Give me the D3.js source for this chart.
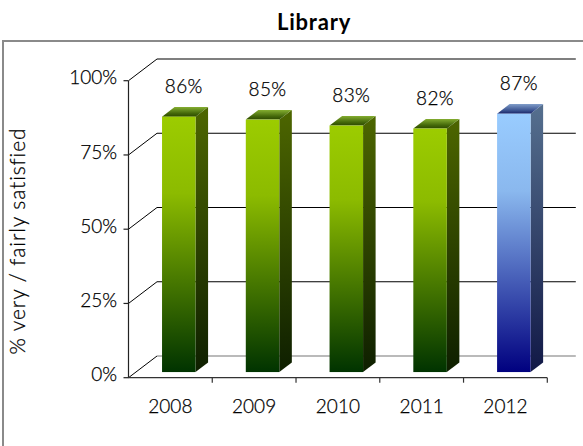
<!DOCTYPE html>
<html>
<head>
<meta charset="utf-8">
<script src="https://cdn.jsdelivr.net/npm/d3@7"></script>
<style>
  html, body { margin: 0; padding: 0; background: #fff; }
  svg { display: block; }
  text { font-family: Lato, "Liberation Sans", sans-serif; fill: #000; font-weight: 300; stroke: #000; stroke-width: 0.25px; }
</style>
</head>
<body>
<svg id="chart" width="583" height="446"></svg>
<script>
// Library satisfaction by survey year
const years = ["2008", "2009", "2010", "2011", "2012"];
const satisfied = [86, 85, 83, 82, 87];
const yTicks = [0, 25, 50, 75, 100];
const title = "Library";
const yTitle = "% very / fairly satisfied";

const svg = d3.select("#chart");

// 3-D box geometry: the back wall is offset from the front plane by (DX, DY)
const DX = 28.5, DY = -21.7;
const zFront = 0.26, zBack = 0.70;   // bar depth as a share of the box depth

const x = d3.scaleBand().domain(years).range([128.5, 547.3]).padding(0);
const y = d3.scaleLinear().domain([0, 100]).range([377.7, 80.7]);

// outer chart frame
svg.append("rect")
  .attr("x", 3).attr("y", 41).attr("width", 600).attr("height", 430)
  .attr("fill", "none").attr("stroke", "#8a8a8a").attr("stroke-width", 2);

// title
svg.append("text")
  .attr("x", 314).attr("y", 30)
  .attr("text-anchor", "middle")
  .style("font-weight", "bold").style("font-size", "22px")
  .style("letter-spacing", "0.8px").style("stroke", "none")
  .text(title);

// gradients
const defs = svg.append("defs");
function grad(id, stops, reverse = false) {
  const g = defs.append("linearGradient").attr("id", id)
    .attr("x1", 0).attr("x2", 0)
    .attr("y1", reverse ? 1 : 0).attr("y2", reverse ? 0 : 1);
  stops.forEach(([o, c]) => g.append("stop").attr("offset", o).attr("stop-color", c));
}
const palettes = {
  green: {
    front: [[0, "#9ccc00"], [0.3, "#8cbb00"], [1, "#003300"]],
    side:  [[0, "#4d6600"], [1, "#0e1f00"]],
    top:   [[0, "#2e4a00"], [0.35, "#44680a"], [1, "#84ad30"]]
  },
  blue: {
    front: [[0, "#99ccff"], [0.3, "#8ab8ee"], [1, "#00007f"]],
    side:  [[0, "#56708f"], [1, "#111846"]],
    top:   [[0, "#1a2468"], [0.35, "#3c5592"], [1, "#7f9cc8"]]
  }
};
Object.entries(palettes).forEach(([k, p]) => {
  grad(k + "-front", p.front);
  grad(k + "-side", p.side);
  grad(k + "-top", p.top, true);
});

// back wall gridlines + floor back edge
const grid = svg.append("g");
yTicks.forEach(t => {
  const yy = y(t);
  grid.append("line")
    .attr("x1", x.range()[0] + DX).attr("x2", x.range()[1] + DX)
    .attr("y1", yy + DY).attr("y2", yy + DY)
    .attr("stroke", t === 0 ? "#777" : "#000").attr("stroke-width", 1.2);
  // side wall diagonals
  grid.append("line")
    .attr("x1", x.range()[0]).attr("y1", yy)
    .attr("x2", x.range()[0] + DX).attr("y2", yy + DY)
    .attr("stroke", "#000").attr("stroke-width", 1);
});

// bars
const bw = x.bandwidth() * 0.40;
const bdx = (zBack - zFront) * DX, bdy = (zBack - zFront) * DY;
const bars = svg.append("g");
years.forEach((yr, i) => {
  const v = satisfied[i];
  const pal = yr === "2012" ? "blue" : "green";
  const cx = x(yr) + x.bandwidth() / 2 + zFront * DX + 1;
  const x0 = cx - bw / 2, x1 = cx + bw / 2;
  const yb = y(0) + zFront * DY, yt = y(v) + zFront * DY;
  const g = bars.append("g");
  // side face
  g.append("polygon")
    .attr("points", [[x1, yt], [x1 + bdx, yt + bdy], [x1 + bdx, yb + bdy], [x1, yb]].join(" "))
    .attr("fill", `url(#${pal}-side)`);
  // top face
  g.append("polygon")
    .attr("points", [[x0, yt], [x1, yt], [x1 + bdx, yt + bdy], [x0 + bdx, yt + bdy]].join(" "))
    .attr("fill", `url(#${pal}-top)`);
  // front face
  g.append("rect")
    .attr("x", x0).attr("y", yt).attr("width", bw).attr("height", yb - yt)
    .attr("fill", `url(#${pal}-front)`);
  // value label
  svg.append("text")
    .attr("x", cx + 5).attr("y", yt + bdy - 14)
    .attr("text-anchor", "middle").style("font-size", "19px")
    .style("letter-spacing", "0.4px")
    .text(v + "%");
});

// front y axis
const axisG = svg.append("g");
axisG.append("line")
  .attr("x1", x.range()[0]).attr("x2", x.range()[0])
  .attr("y1", y(100)).attr("y2", y(0))
  .attr("stroke", "#222").attr("stroke-width", 1.2);
yTicks.forEach(t => {
  axisG.append("line")
    .attr("x1", x.range()[0] - 5).attr("x2", x.range()[0])
    .attr("y1", y(t)).attr("y2", y(t))
    .attr("stroke", "#222").attr("stroke-width", 1.2);
  axisG.append("text")
    .attr("x", 117).attr("y", y(t) + 3.7)
    .attr("text-anchor", "end").style("font-size", "19px")
    .text(t + "%");
});

// front x axis
axisG.append("line")
  .attr("x1", x.range()[0]).attr("x2", x.range()[1])
  .attr("y1", y(0)).attr("y2", y(0))
  .attr("stroke", "#333").attr("stroke-width", 1.2);
years.forEach(yr => {
  axisG.append("line")
    .attr("x1", x(yr) + x.bandwidth()).attr("x2", x(yr) + x.bandwidth())
    .attr("y1", y(0)).attr("y2", y(0) + 5)
    .attr("stroke", "#333").attr("stroke-width", 1.2);
  axisG.append("text")
    .attr("x", x(yr) + x.bandwidth() / 2).attr("y", 413.3)
    .attr("text-anchor", "middle").style("font-size", "19px")
    .text(yr);
});

// y axis title
svg.append("text")
  .attr("transform", "translate(25,241) rotate(-90)")
  .attr("text-anchor", "middle").style("font-size", "21px")
  .style("letter-spacing", "0.9px")
  .text(yTitle);
</script>
</body>
</html>
